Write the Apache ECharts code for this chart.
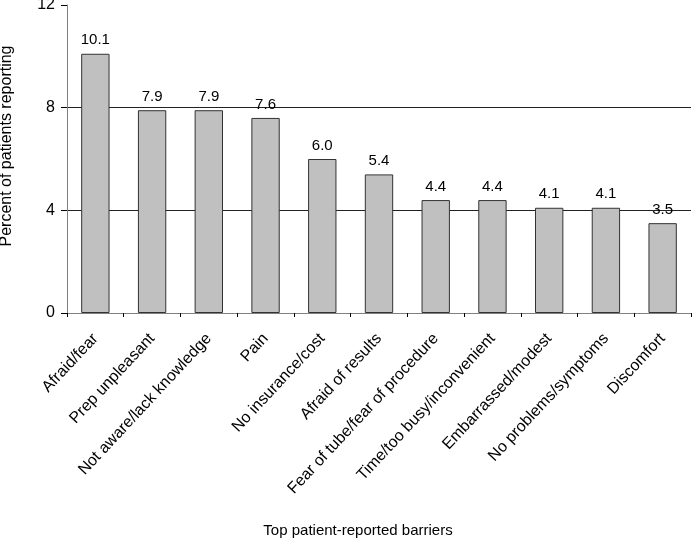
<!DOCTYPE html>
<html><head><meta charset="utf-8">
<script src="https://cdn.jsdelivr.net/npm/echarts@6/dist/echarts.min.js"></script>
<style>html,body{margin:0;padding:0;background:#fff}#c{width:692px;height:538px}</style>
</head><body><div id="c"></div>
<script>
const categories = ["Afraid/fear","Prep unpleasant","Not aware/lack knowledge","Pain","No insurance/cost","Afraid of results","Fear of tube/fear of procedure","Time/too busy/inconvenient","Embarrassed/modest","No problems/symptoms","Discomfort"];
const values = [10.1,7.9,7.9,7.6,6.0,5.4,4.4,4.4,4.1,4.1,3.5];
const yTicks = [0,4,8,12];
const font = '"Liberation Sans", Arial, sans-serif';
const chart = echarts.init(document.getElementById('c'), null, {renderer:'canvas'});
chart.setOption({
  animation:false,
  grid:{left:67,right:1,top:5,bottom:225,containLabel:false,outerBoundsMode:'none'},
  xAxis:{
    type:'category', data:categories,
    name:'Top patient-reported barriers', nameLocation:'middle', nameGap:210,
    nameTextStyle:{fontFamily:font,fontSize:15,color:'#000',padding:[0,42,0,0]},
    axisLine:{lineStyle:{color:'#808080',width:1}},
    axisTick:{show:true,length:4,lineStyle:{color:'#000'},alignWithLabel:false},
    axisLabel:{rotate:47,interval:0,fontFamily:font,fontSize:16,color:'#000',margin:23}
  },
  yAxis:{
    type:'value', min:yTicks[0], max:yTicks[yTicks.length-1], interval:4,
    name:'Percent of patients reporting', nameLocation:'middle', nameGap:52,
    nameTextStyle:{fontFamily:font,fontSize:16,color:'#000',padding:[0,0,0,26]},
    axisLine:{show:true,lineStyle:{color:'#808080',width:1}},
    axisTick:{show:true,length:6,lineStyle:{color:'#000'}},
    axisLabel:{fontFamily:font,fontSize:16,color:'#000',margin:12},
    splitLine:{show:true,lineStyle:{color:'#222',width:1},
      showMinLine:false, showMaxLine:false}
  },
  series:[{
    type:'bar', data:values, barWidth:'50%',
    itemStyle:{color:'#c0c0c0',borderColor:'#333',borderWidth:1},
    label:{show:true,position:'top',distance:6,fontFamily:font,fontSize:15,color:'#000',
      formatter:p=>p.value.toFixed(1)}
  }]
});
</script></body></html>
